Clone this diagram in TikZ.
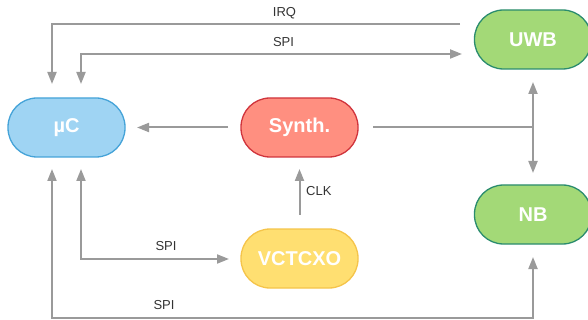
\documentclass[tikz,border=0pt]{standalone}
\usepackage{fontspec}
\setmainfont{Liberation Sans}
\usetikzlibrary{arrows.meta}
\definecolor{arr}{HTML}{9A9A9A}
\definecolor{lbl}{HTML}{333333}
\definecolor{ucfill}{HTML}{9FD4F3}
\definecolor{ucdraw}{HTML}{45A3D8}
\definecolor{syfill}{HTML}{FF8F80}
\definecolor{sydraw}{HTML}{D0343C}
\definecolor{gnfill}{HTML}{A3D977}
\definecolor{gndraw}{HTML}{2A8C6E}
\definecolor{vcfill}{HTML}{FFDF71}
\definecolor{vcdraw}{HTML}{F5C44A}
\begin{document}
\begin{tikzpicture}[x=1pt,y=-1pt,
  blk/.style={rectangle, rounded corners=29pt, minimum width=117pt, minimum height=59pt,
    line width=1.3pt, text=white, font=\bfseries\fontsize{20}{24}\selectfont, inner sep=0pt},
  con/.style={draw=arr, line width=2pt, -{Triangle[length=12pt,width=9pt]}},
  dcon/.style={draw=arr, line width=2pt, {Triangle[length=12pt,width=9pt]}-{Triangle[length=12pt,width=9pt]}},
  pl/.style={draw=arr, line width=2pt},
  lab/.style={text=lbl, font=\fontsize{13}{15}\selectfont, inner sep=0pt}]
\useasboundingbox (0,0) rectangle (588,320);
\node[blk, fill=ucfill, draw=ucdraw] (uc) at (66.5,127.5) {µC};
\node[blk, fill=syfill, draw=sydraw] (syn) at (299.5,127.5) {Synth.};
\node[blk, fill=gnfill, draw=gndraw] (uwb) at (533,39.5) {UWB};
\node[blk, fill=gnfill, draw=gndraw] (nb) at (533,214.5) {NB};
\node[blk, fill=vcfill, draw=vcdraw] (vc) at (299.5,258.5) {VCTCXO};
% coordinates
\coordinate (irqS) at (460,24.5);
\coordinate (irqE) at (52,84);
\coordinate (spiA) at (81,84);
\coordinate (spiB) at (462,54);
\coordinate (syL) at (228,127.5);
\coordinate (ucR) at (137,127.5);
\coordinate (syR) at (373,127.5);
\coordinate (jn) at (533,127.5);
\coordinate (uwbB) at (533,82);
\coordinate (nbT) at (533,173);
\coordinate (vcT) at (299.5,215);
\coordinate (syB) at (299.5,169);
\coordinate (ucB1) at (81,169);
\coordinate (vcL) at (229,259);
\coordinate (ucB2) at (52,169);
\coordinate (botR) at (533,317.5);
\coordinate (nbB) at (533,257);
% connectors
\draw[con] (irqS) -| (irqE);
\draw[dcon] (spiA) |- (spiB);
\draw[con] (syL) -- (ucR);
\draw[pl] (syR) -- (jn);
\draw[dcon] (uwbB) -- (nbT);
\draw[con] (vcT) -- (syB);
\draw[dcon] (ucB1) |- (vcL);
\draw[dcon] (ucB2) |- (botR) -- (nbB);
% labels
\node[lab] (l1) at (284.5,13) {IRQ};
\node[lab] (l2) at (283.5,42) {SPI};
\node[lab, anchor=west] (l3) at (306,191) {CLK};
\node[lab] (l4) at (166,246) {SPI};
\node[lab] (l5) at (164,305) {SPI};
\end{tikzpicture}
\end{document}
